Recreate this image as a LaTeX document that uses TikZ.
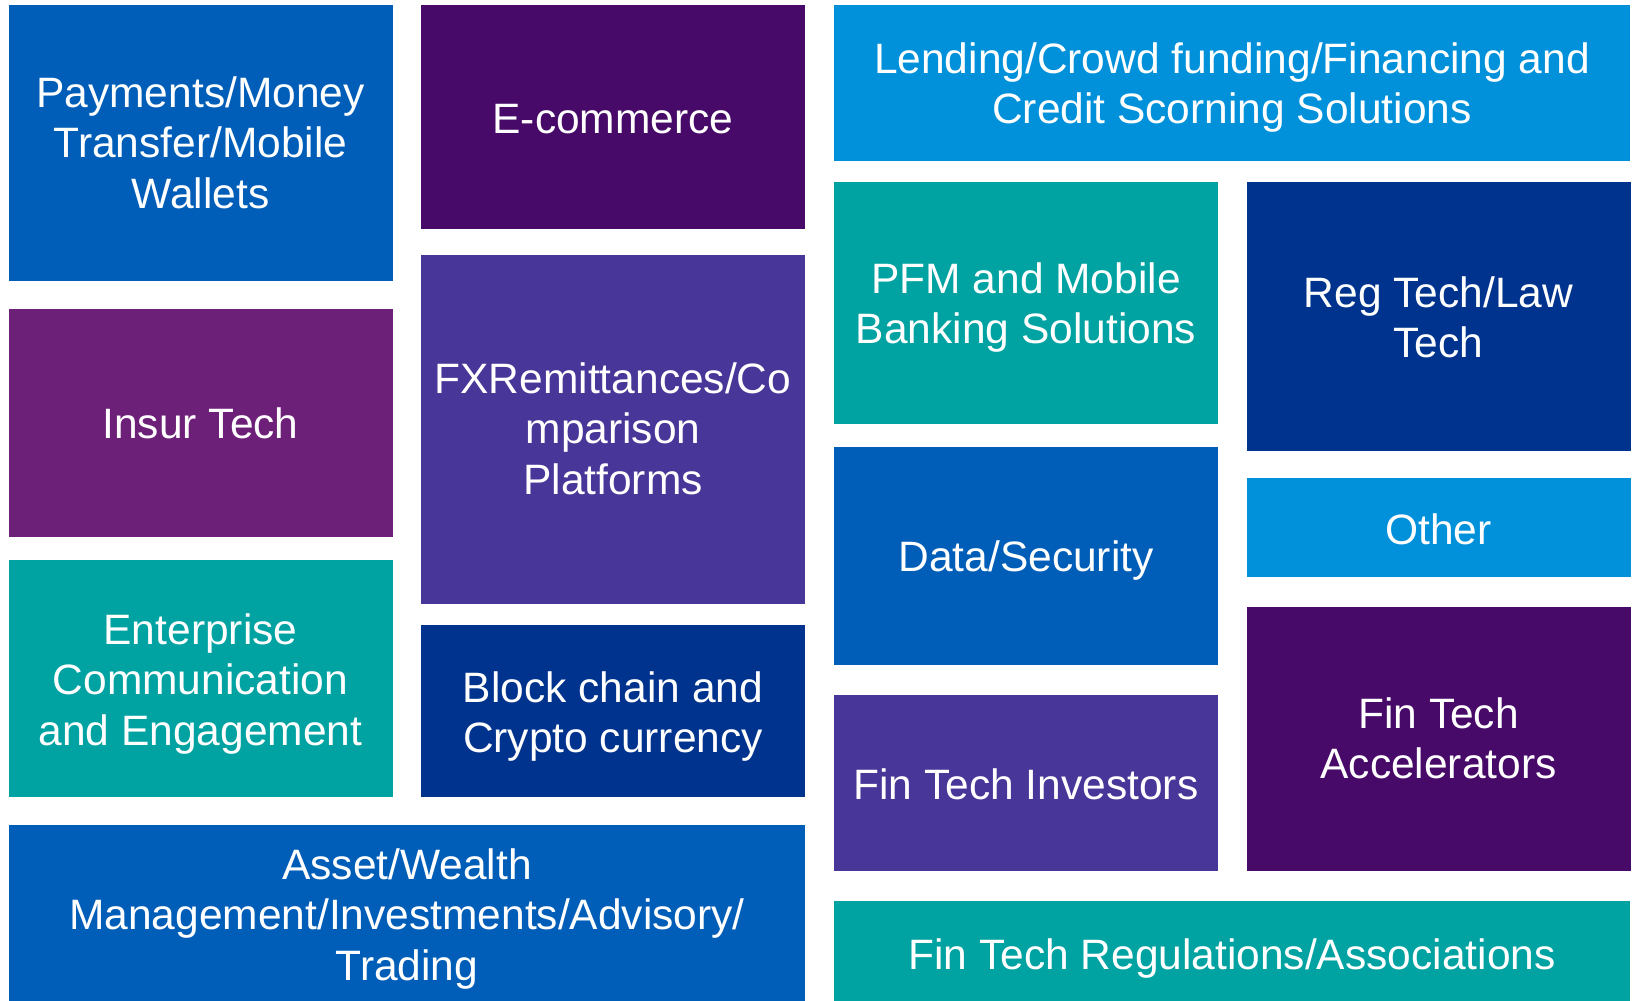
\documentclass[tikz,border=0pt]{standalone}
\usepackage{fontspec}
\setmainfont{Liberation Sans}
\definecolor{kblue}{HTML}{005EB8}
\definecolor{kpurple}{HTML}{470A68}
\definecolor{kviolet}{HTML}{483698}
\definecolor{kplum}{HTML}{6D2077}
\definecolor{kteal}{HTML}{00A3A1}
\definecolor{kcobalt}{HTML}{00338D}
\definecolor{klight}{HTML}{0091DA}
% label text framed by struts: #1 = height of the top strut (sets the vertical offset)
\newcommand\tiletext[2]{\rule{0pt}{#1pt}#2\rule[-9pt]{0pt}{9pt}}
\begin{document}
\begin{tikzpicture}[x=1pt,y=-1pt,
  tile/.style={rectangle, inner sep=0pt, outer sep=0pt, align=center,
    text=white, font=\fontsize{42.5}{50.5}\selectfont},
  wide/.style={minimum width=796pt},
  std/.style={minimum width=384pt}]
\useasboundingbox[fill=white] (0,0) rectangle (1634,1001);
% left column
\node[tile, std, fill=kblue,  minimum height=276pt] (pay)   at (200.5,143)   {\tiletext{38.6}{Payments/Money\\Transfer/Mobile\\Wallets}};
\node[tile, std, fill=kplum,  minimum height=228pt] (ins)   at (200.5,423)   {\tiletext{40.4}{Insur Tech}};
\node[tile, std, fill=kteal,  minimum height=237pt] (ent)   at (200.5,678.5) {\tiletext{41}{Enterprise\\Communication\\and Engagement}};
% middle column
\node[tile, std, fill=kpurple, minimum height=224pt] (ecom) at (613,117)     {\tiletext{41.8}{E-commerce}};
\node[tile, std, fill=kviolet, minimum height=349pt] (fx)   at (613,429.5)   {\tiletext{37.6}{FXRemittances/Co\\mparison\\Platforms}};
\node[tile, std, fill=kcobalt, minimum height=172pt] (blk)  at (613,711)     {\tiletext{42}{Block chain and\\Crypto currency}};
% bottom-left wide tile
\node[tile, wide, fill=kblue, minimum height=176pt] (asset) at (407,913)     {\tiletext{42.6}{Asset/Wealth\\Management/Investments/Advisory/\\Trading}};
% right block
\node[tile, wide, fill=klight, minimum height=156pt] (lend) at (1232,83)     {\tiletext{40}{Lending/Crowd funding/Financing and\\Credit Scorning Solutions}};
\node[tile, std, fill=kteal,   minimum height=242pt] (pfm)  at (1026,303)    {\tiletext{40}{PFM and Mobile\\Banking Solutions}};
\node[tile, std, fill=kblue,   minimum height=218pt] (data) at (1026,556)    {\tiletext{40.4}{Data/Security}};
\node[tile, std, fill=kviolet, minimum height=176pt] (inv)  at (1026,783)    {\tiletext{41.6}{Fin Tech Investors}};
\node[tile, std, fill=kcobalt, minimum height=269pt] (reg)  at (1438.5,316.5) {\tiletext{41.2}{Reg Tech/Law\\Tech}};
\node[tile, std, fill=klight,  minimum height=99pt]  (oth)  at (1438.5,527.5) {\tiletext{42}{Other}};
\node[tile, std, fill=kpurple, minimum height=264pt] (acc)  at (1438.5,739)  {\tiletext{38}{Fin Tech\\Accelerators}};
\node[tile, wide, fill=kteal,  minimum height=100pt] (rega) at (1232,951)    {\tiletext{45}{Fin Tech Regulations/Associations}};
\end{tikzpicture}
\end{document}
